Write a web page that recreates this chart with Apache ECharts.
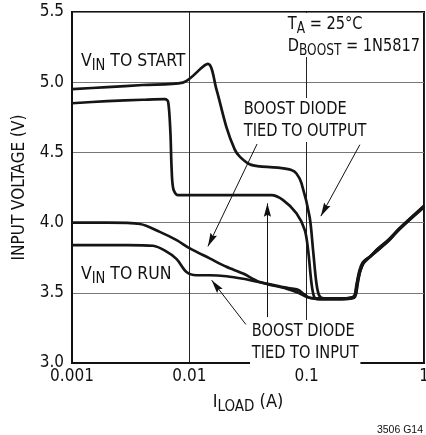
<!DOCTYPE html>
<html>
<head>
<meta charset="utf-8">
<script src="https://cdn.jsdelivr.net/npm/echarts@6/dist/echarts.min.js"></script>
<style>
html, body { margin: 0; padding: 0; background: #fff; }
#chart { width: 426px; height: 435px; }
</style>
</head>
<body>
<div id="chart"></div>
<script>
const FONT = "'DejaVu Sans Condensed', 'Liberation Sans', sans-serif"

const xTickLabels = { '-3': '0.001', '-2': '0.01', '-1': '0.1', '0': '1' }

// V_IN to start, boost diode tied to output
const startTiedOutput = [
  [0.001, 4.95], [0.002, 4.965], [0.004, 4.98], [0.0088, 4.997], [0.0144, 5.13],
  [0.017, 4.95], [0.0207, 4.68], [0.0244, 4.52], [0.0269, 4.47], [0.0327, 4.415],
  [0.04, 4.40], [0.059, 4.39], [0.074, 4.375], [0.0818, 4.35], [0.0904, 4.28],
  [0.106, 4.04], [0.1135, 3.80], [0.121, 3.57], [0.128, 3.48], [0.14, 3.46],
  [0.2, 3.46], [0.25, 3.47], [0.264, 3.53], [0.278, 3.63], [0.295, 3.69],
  [0.315, 3.73], [0.35, 3.76], [0.4, 3.81], [0.5, 3.875], [0.62, 3.96], [1, 4.115]
]

// V_IN to start, boost diode tied to input
const startTiedInput = [
  [0.001, 4.85], [0.002, 4.865], [0.004, 4.875], [0.0062, 4.88], [0.0066, 4.86],
  [0.0069, 4.64], [0.00705, 4.40], [0.0073, 4.24], [0.008, 4.195], [0.01, 4.195],
  [0.02, 4.195], [0.05, 4.195], [0.063, 4.16], [0.0818, 4.066], [0.0964, 3.946],
  [0.103, 3.80], [0.11, 3.566], [0.116, 3.47], [0.125, 3.455], [0.2, 3.455],
  [0.255, 3.465], [0.27, 3.55], [0.285, 3.65], [0.305, 3.71], [0.34, 3.75],
  [0.4, 3.80], [0.5, 3.87], [0.62, 3.955], [1, 4.11]
]

// V_IN to run, boost diode tied to output
const runTiedOutput = [
  [0.001, 4.0], [0.002, 4.0], [0.0038, 3.99], [0.0056, 3.934], [0.0078, 3.875],
  [0.0101, 3.816], [0.0149, 3.745], [0.0207, 3.685], [0.0287, 3.637], [0.0398, 3.577],
  [0.0672, 3.53], [0.085, 3.50], [0.1, 3.47], [0.12, 3.46], [0.2, 3.46],
  [0.258, 3.48], [0.272, 3.58], [0.29, 3.67], [0.31, 3.725], [0.345, 3.755],
  [0.4, 3.81], [0.5, 3.88], [0.62, 3.96], [1, 4.12]
]

// V_IN to run, boost diode tied to input
const runTiedInput = [
  [0.001, 3.84], [0.003, 3.84], [0.0049, 3.835], [0.0062, 3.80], [0.0078, 3.74],
  [0.0094, 3.65], [0.0115, 3.625], [0.0149, 3.625], [0.0207, 3.618], [0.0287, 3.60],
  [0.0398, 3.575], [0.06, 3.545], [0.075, 3.53], [0.085, 3.52], [0.095, 3.49],
  [0.105, 3.465], [0.13, 3.455], [0.2, 3.455], [0.252, 3.47], [0.266, 3.56],
  [0.282, 3.66], [0.3, 3.715], [0.33, 3.745], [0.38, 3.785], [0.5, 3.875],
  [0.62, 3.955], [1, 4.115]
]

// annotation arrows: [tail, head] in data units
const arrows = [
  [[0.0378, 4.56], [0.0144, 3.83]],
  [[0.284, 4.555], [0.132, 4.046]],
  [[0.0303, 3.275], [0.0155, 3.59]],
  [[0.0463, 3.327], [0.0463, 4.137]]
]

// narrow arrowhead, tip sits at the centre of a 28x28 box so it lands on the line end
const ARROW = 'path://M0,0M28,28M14,14L17.6,27.5L14,25.5L10.4,27.5Z'

const chart = echarts.init(document.getElementById('chart'))

const curve = (data) => ({
  type: 'line',
  data,
  showSymbol: false,
  smooth: 0.3,
  lineStyle: { color: '#151515', width: 2.7 },
  silent: true,
  z: 3
})

const rich = {
  m: { fontFamily: FONT, fontSize: 18, lineHeight: 22, color: '#111' },
  s: { fontFamily: FONT, fontSize: 15, lineHeight: 10, padding: [10, 0, 0, 0], color: '#111' }
}

const label = (x, y, text, sx) => ({
  type: 'text',
  x,
  y,
  scaleX: sx || 0.9,
  z: 10,
  style: {
    text,
    rich,
    fill: '#111',
    font: '18px ' + FONT,
    backgroundColor: '#fff',
    padding: [0, 2, 0, 2]
  }
})

chart.setOption({
  animation: false,
  grid: {
    left: 72, right: 2, top: 12, bottom: 72,
    outerBoundsMode: 'none',
    show: true, borderColor: '#111', borderWidth: 2
  },
  xAxis: {
    type: 'log',
    logBase: 10,
    min: 0.001,
    max: 1,
    axisLine: { lineStyle: { color: '#111', width: 2 } },
    axisTick: { show: false },
    minorTick: { show: false },
    splitLine: { show: true, lineStyle: { color: '#222', width: 1 } },
    axisLabel: {
      fontFamily: FONT, fontSize: 17, color: '#111', margin: 5,
      formatter: (v) => xTickLabels[String(Math.round(Math.log10(v)))]
    },
    name: '{m|I}{s|LOAD}{m| (A)}',
    nameLocation: 'middle',
    nameGap: 28,
    nameTextStyle: { rich }
  },
  yAxis: {
    type: 'value',
    min: 3,
    max: 5.5,
    interval: 0.5,
    axisLine: { show: true, lineStyle: { color: '#111', width: 2 } },
    axisTick: { show: false },
    splitLine: { show: true, lineStyle: { color: '#777', width: 1.2 } },
    axisLabel: {
      fontFamily: FONT, fontSize: 17, color: '#111', margin: 8,
      formatter: (v) => v.toFixed(1)
    },
    name: 'INPUT VOLTAGE (V)',
    nameLocation: 'middle',
    nameGap: 44,
    nameTextStyle: { fontFamily: FONT, fontSize: 17, color: '#111' }
  },
  series: [
    curve(startTiedOutput),
    curve(startTiedInput),
    curve(runTiedOutput),
    curve(runTiedInput),
    {
      type: 'lines',
      coordinateSystem: 'cartesian2d',
      silent: true,
      symbol: ['none', ARROW],
      symbolSize: 28,
      lineStyle: { color: '#111', width: 1, opacity: 1 },
      itemStyle: { color: '#111' },
      data: arrows.map((a) => ({ coords: a })),
      z: 4
    }
  ],
  graphic: [
    label(79, 50, '{m|V}{s|IN}{m| TO START}', 0.97),
    label(79, 263, '{m|V}{s|IN}{m| TO RUN}', 0.97),
    label(286, 13, '{m|T}{s|A}{m| = 25°C}\n{m|D}{s|BOOST}{m| = 1N5817}'),
    label(242, 98, '{m|BOOST DIODE}\n{m|TIED TO OUTPUT}'),
    label(250, 320, '{m|BOOST DIODE}\n{m|TIED TO INPUT}'),
    {
      type: 'text',
      right: 3,
      top: 425,
      style: { text: '3506 G14', font: '10.5px "Liberation Sans", sans-serif', fill: '#111' }
    }
  ]
})
</script>
</body>
</html>
